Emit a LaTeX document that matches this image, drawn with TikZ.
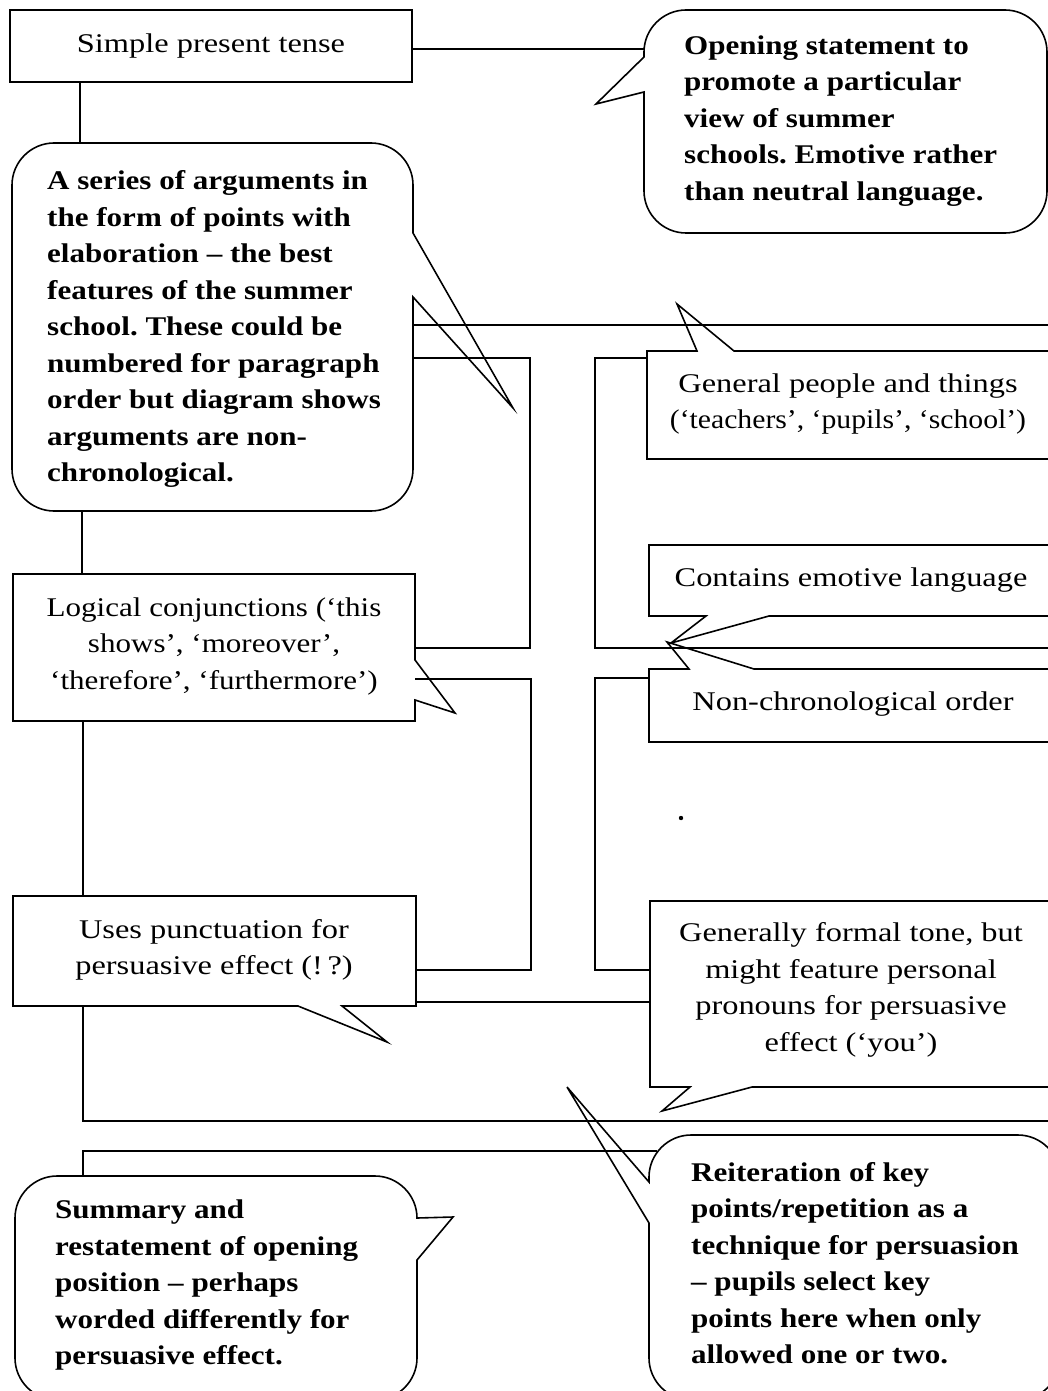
\documentclass[tikz,border=0pt]{standalone}
\usepackage{fontspec}
\setmainfont[FakeStretch=1.15]{Liberation Serif}
\newfontfamily\regfont[FakeStretch=1.2]{Liberation Serif}
\newfontfamily\regfontb[FakeStretch=1.15]{Liberation Serif}
\newfontfamily\regfontc[FakeStretch=1.1]{Liberation Serif}
\frenchspacing
\begin{document}
\frenchspacing
\begin{tikzpicture}[x=1pt,y=-1pt,
  ln/.style={line width=1.6pt, line join=miter, line cap=butt},
  btxt/.style={font=\fontsize{27}{36.5}\selectfont\bfseries, align=left, inner sep=0pt, anchor=west},
  rtxt/.style={font=\regfont\fontsize{27}{36.5}\selectfont, align=center, inner sep=0pt, anchor=center}]
\useasboundingbox (0,0) rectangle (1048,1391);
\clip (0,0) rectangle (1048,1391);

% ---- key points
\coordinate (simpleR) at (412,49);
\coordinate (openL) at (644,49);
\coordinate (simpleB) at (80,82);
\coordinate (seriesT) at (80,143);

% ---- Simple present tense
\draw[ln] (10,10) rectangle (412,82);
\node[rtxt] (simple) at (211,46) {Simple present tense};
\draw[ln] (simpleR) -- (openL);
\draw[ln] (simpleB) -- (seriesT);

% ---- Opening statement callout
\draw[ln] (644,57) -- (644,52) .. controls (644,29) and (663,10) .. (686,10)
  -- (1005,10) .. controls (1028,10) and (1047,29) .. (1047,52)
  -- (1047,191) .. controls (1047,214) and (1028,233) .. (1005,233)
  -- (686,233) .. controls (663,233) and (644,214) .. (644,191)
  -- (644,92) -- (596,104) -- cycle;
\node[btxt] (opening) at (684,121) {Opening statement to\\promote a particular\\view of summer\\schools. Emotive rather\\than neutral language.};

% ---- Series of arguments callout
\draw[ln] (413,233) -- (413,185) .. controls (413,162) and (394,143) .. (371,143)
  -- (54,143) .. controls (31,143) and (12,162) .. (12,185)
  -- (12,469) .. controls (12,492) and (31,511) .. (54,511)
  -- (371,511) .. controls (394,511) and (413,492) .. (413,469)
  -- (413,297) -- (513,408) -- cycle;
\node[btxt] (series) at (47,329) {A series of arguments in\\the form of points with\\elaboration -- the best\\features of the summer\\school. These could be\\numbered for paragraph\\order but diagram shows\\arguments are non-\\chronological.};

% ---- connectors from series
\coordinate (s1) at (413,325);
\coordinate (s1e) at (1060,325);
\draw[ln] (s1) -- (s1e);
\coordinate (s2) at (413,358);
\coordinate (c1a) at (530,358);
\coordinate (c1b) at (530,648);
\coordinate (lg1) at (415,648);
\draw[ln] (s2) -- (c1a) -- (c1b) -- (lg1);
\coordinate (seriesB) at (82,511);
\coordinate (logT) at (82,574);
\draw[ln] (seriesB) -- (logT);

% ---- Logical conjunctions box
\draw[ln] (415,660) -- (415,574) -- (13,574) -- (13,721) -- (415,721) -- (415,700) -- (455,713) -- cycle;
\node[rtxt, font=\regfontb\fontsize{27}{36.5}\selectfont] (logical) at (214,646) {Logical conjunctions (‘this\\shows’, ‘moreover’,\\‘therefore’, ‘furthermore’)};

\coordinate (lg2) at (415,679);
\coordinate (c2a) at (531,679);
\coordinate (c2b) at (531,970);
\coordinate (us1) at (417,970);
\draw[ln] (lg2) -- (c2a) -- (c2b) -- (us1);
\coordinate (logB) at (83,721);
\coordinate (usesT) at (83,896);
\draw[ln] (logB) -- (usesT);

% ---- Uses punctuation box
\draw[ln] (298,1006) -- (13,1006) -- (13,896) -- (416,896) -- (416,1006) -- (342,1006) -- (387,1042) -- cycle;
\node[rtxt] (uses) at (214,950) {Uses punctuation for\\persuasive effect (!\,?)};

\coordinate (us2) at (416,1002);
\coordinate (gf2) at (650,1002);
\draw[ln] (us2) -- (gf2);
\coordinate (usesB) at (83,1006);
\coordinate (l1) at (83,1121);
\coordinate (l1e) at (1060,1121);
\draw[ln] (usesB) -- (l1) -- (l1e);
\coordinate (reitC) at (657,1151);
\coordinate (l2) at (83,1151);
\coordinate (sumT) at (83,1176);
\draw[ln] (reitC) -- (l2) -- (sumT);

% ---- Summary callout
\draw[ln] (453,1217) -- (417,1218) .. controls (417,1195) and (398,1176) .. (375,1176)
  -- (57,1176) .. controls (34,1176) and (15,1195) .. (15,1218)
  -- (15,1358) .. controls (15,1381) and (34,1400) .. (57,1400)
  -- (375,1400) .. controls (398,1400) and (417,1381) .. (417,1358)
  -- (417,1260) -- cycle;
\node[btxt] (summary) at (55,1285) {Summary and\\restatement of opening\\position -- perhaps\\worded differently for\\persuasive effect.};

% ---- Reiteration callout
\draw[ln] (649,1182) -- (649,1177) .. controls (649,1154) and (668,1135) .. (691,1135)
  -- (1018,1135) .. controls (1041,1135) and (1060,1154) .. (1060,1177)
  -- (1060,1358) .. controls (1060,1381) and (1041,1400) .. (1018,1400)
  -- (691,1400) .. controls (668,1400) and (649,1381) .. (649,1358)
  -- (649,1223) -- (567,1087) -- cycle;
\node[btxt] (reiteration) at (691,1263) {Reiteration of key\\points/repetition as a\\technique for persuasion\\-- pupils select key\\points here when only\\allowed one or two.};

% ---- General people box
\draw[ln] (697,351) -- (647,351) -- (647,459) -- (1060,459) -- (1060,351) -- (734,351) -- (677,304) -- cycle;
\node[rtxt] (general) at (848,404) {General people and things\\{\regfontc(‘teachers’, ‘pupils’, ‘school’)}};

\coordinate (gp1) at (647,358);
\coordinate (r1a) at (595,358);
\coordinate (r1b) at (595,648);
\coordinate (r1e) at (1060,648);
\draw[ln] (gp1) -- (r1a) -- (r1b) -- (r1e);

% ---- Contains emotive language box
\draw[ln] (706,616) -- (649,616) -- (649,545) -- (1060,545) -- (1060,616) -- (769,616) -- (671,643) -- cycle;
\node[rtxt] (emotive) at (851,580) {Contains emotive language};

% ---- Non-chronological order box
\draw[ln] (689,669) -- (649,669) -- (649,742) -- (1060,742) -- (1060,669) -- (754,669) -- (667,642) -- cycle;
\node[rtxt] (nonchron) at (853,704) {Non-chronological order};

\coordinate (nc1) at (649,678);
\coordinate (r2a) at (595,678);
\coordinate (r2b) at (595,970);
\coordinate (gf1) at (650,970);
\draw[ln] (nc1) -- (r2a) -- (r2b) -- (gf1);

% ---- Generally formal tone box
\draw[ln] (690,1087) -- (650,1087) -- (650,901) -- (1060,901) -- (1060,1087) -- (752,1087) -- (662,1111) -- cycle;
\node[rtxt] (formal) at (851,990) {Generally formal tone, but\\might feature personal\\pronouns for persuasive\\effect (‘you’)};

% ---- stray dot
\fill (681,818) circle[radius=2.2];
\end{tikzpicture}
\end{document}
